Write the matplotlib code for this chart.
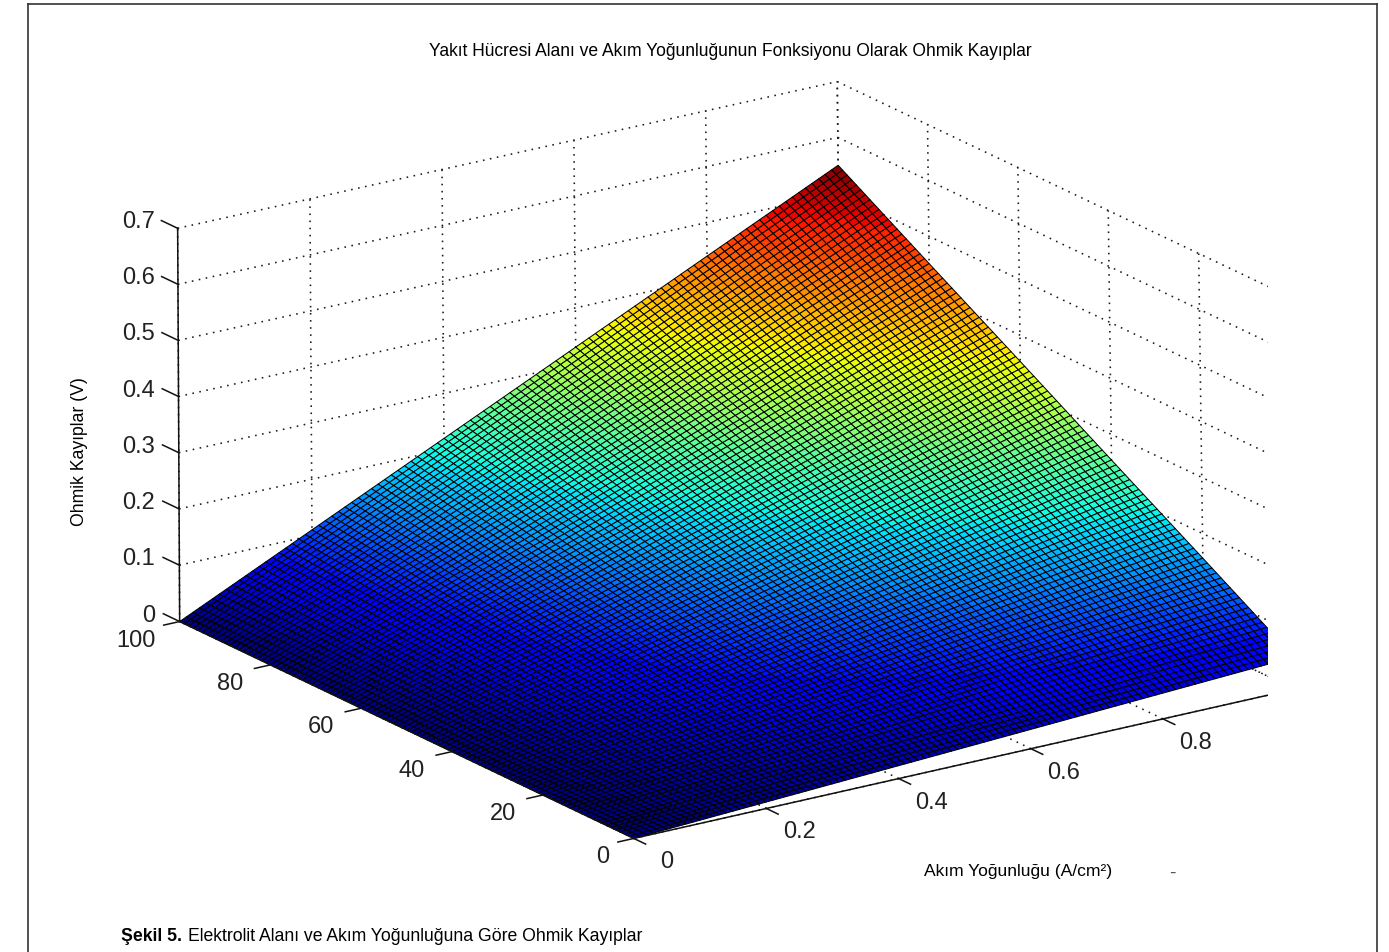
import numpy as np
import matplotlib
matplotlib.use("Agg")
import matplotlib.pyplot as plt
from matplotlib.lines import Line2D
from mpl_toolkits.mplot3d import Axes3D  # noqa: F401

plt.rcParams['font.family'] = ['Liberation Sans', 'DejaVu Sans']

W, H = 1389, 953

# ---- data -----------------------------------------------------------
title = "Yakıt Hücresi Alanı ve Akım Yoğunluğunun Fonksiyonu Olarak Ohmik Kayıplar"
zlabel = "Ohmik Kayıplar (V)"
xlabel = "Akım Yoğunluğu (A/cm²)"
caption_bold = "Şekil 5."
caption_rest = "Elektrolit Alanı ve Akım Yoğunluğuna Göre Ohmik Kayıplar"

J_ticks = [0, 0.2, 0.4, 0.6, 0.8, 1.0]
J_labels = ["0", "0.2", "0.4", "0.6", "0.8"]
A_ticks = [0, 20, 40, 60, 80, 100]
A_labels = ["0", "20", "40", "60", "80", "100"]
Z_ticks = [0, 0.1, 0.2, 0.3, 0.4, 0.5, 0.6, 0.7]
Z_labels = ["0", "0.1", "0.2", "0.3", "0.4", "0.5", "0.6", "0.7"]

# losses read along the far edge (J = 1) at the area ticks; the loss rises
# from 0 along every line of constant area as J grows
edge_area = [0, 20, 40, 60, 80, 100]
edge_loss = [0.057, 0.156, 0.254, 0.353, 0.451, 0.55]
mesh_cells = 100

# ---- camera: fitted to where axis ticks sit in the picture -----------
cal_3d = [(0, 100, 0), (0, 100, .7), (1, 100, .7), (1, 100, .6), (0, 0, 0),
          (.2, 0, 0), (.6, 0, 0), (.8, 0, 0), (1, 80, .7), (1, 40, .7), (1, 20, .7),
          (1, 40, .6), (1, 20, .6), (.2, 100, .7), (.2, 100, .6),
          (0, 80, 0), (0, 60, 0), (0, 40, 0), (0, 20, 0)]
cal_px = [(178.5, 622), (178.5, 230), (838, 85), (838, 138), (632, 839),
          (767, 810), (1031, 750), (1162, 721), (929, 126), (1108, 209), (1199, 255),
          (1108, 265), (1199, 311), (309, 200), (309, 256),
          (270, 665), (362, 708), (453, 753), (545, 797)]
rows = []
for (j, a, z), (u, v) in zip(cal_3d, cal_px):
    X = np.array([j, a / 100, z / .7, 1.0])
    u, v = u / 1000, v / 1000
    rows.append(np.r_[X, 0 * X, -u * X])
    rows.append(np.r_[0 * X, X, -v * X])
P = np.linalg.svd(np.array(rows))[2][-1].reshape(3, 4)
P = P / P[2, 3]
scale = np.diag([1, .01, 1 / .7, 1])
P = P @ scale
M = np.array([P[0] * 1000, P[1] * 1000, [1, .01, .1, 0], P[2]])


def project(j, a, z):
    p = M @ np.array([j, a, z, 1.0])
    return p[0] / p[3], p[1] / p[3]


# ---- figure ----------------------------------------------------------
fig = plt.figure(figsize=(W / 100, H / 100), dpi=100, facecolor='white')
CLIP_X = 1268
ax = fig.add_axes([0, 0, CLIP_X / W, 1], projection='3d')
ax.set_proj_type('ortho')
ax.apply_aspect = lambda position=None: None
ax.get_proj = lambda: M
ax._viewLim.set_points(np.array([[0.0, H], [float(CLIP_X), 0.0]]))
ax.set_axis_off()
ax.computed_zorder = False
ax.patch.set_visible(False)

ink = '#222222'
dot = dict(color='#1a1a1a', lw=1.15, ls=(0, (1, 3.45)), zorder=1)
solid = dict(color='#111111', lw=1.1, zorder=3)

for z in Z_ticks:
    ax.plot([0, 1], [100, 100], [z, z], **dot)
    ax.plot([1, 1], [100, 0], [z, z], **dot)
for j in J_ticks:
    ax.plot([j, j], [100, 100], [0, 0.7], **dot)
    ax.plot([j, j], [0, 100], [0, 0], **dot)
for a in A_ticks:
    ax.plot([1, 1], [a, a], [0, 0.7], **dot)
    ax.plot([0, 1], [a, a], [0, 0], **dot)

# axes lines and tick marks
ax.plot([0, 0], [100, 100], [0, 0.7], **solid)
ax.plot([0, 1], [0, 0], [0, 0], **solid)
ax.plot([0, 0], [0, 100], [0, 0], **solid)
for z in Z_ticks:
    ax.plot([0, 0], [100, 103.6], [z, z], **solid)
for j in J_ticks:
    ax.plot([j, j], [0, -2.6], [0, 0], **solid)
for a in A_ticks:
    ax.plot([0, -0.024], [a, a], [0, 0], **solid)

# surface
J_mesh, A_mesh = np.meshgrid(np.linspace(0, 1, mesh_cells + 1),
                             np.linspace(0, 100, mesh_cells + 1))
Z_mesh = J_mesh * np.interp(A_mesh, edge_area, edge_loss)
surf = ax.plot_surface(J_mesh, A_mesh, Z_mesh, rstride=1, cstride=1,
                       cmap=plt.get_cmap('jet', 64), vmin=0, vmax=max(edge_loss),
                       edgecolor='black', linewidth=0.72, antialiased=True,
                       zorder=2)


# ---- text (pixel placement) ------------------------------------------
def put(x, y, s, **kw):
    kw.setdefault('ha', 'center')
    kw.setdefault('va', 'center')
    kw.setdefault('color', ink)
    return fig.text(x / W, 1 - y / H, s, **kw)


tick_fs = 17
for z, s in zip(Z_ticks, Z_labels):
    x, y = project(0, 100, z)
    put(155, y - 7, s, ha='right', fontsize=tick_fs)
for j, s in zip(J_ticks, J_labels):
    x, y = project(j, 0, 0)
    put(x + 33, y + 23, s, fontsize=tick_fs)
for a, s in zip(A_ticks, A_labels):
    x, y = project(0, a, 0)
    dx = {0: -31, 100: -44}.get(a, -40)
    put(x + dx, y + 18, s, fontsize=tick_fs)

put(730, 52, title, fontsize=12.65, color='black')
put(79, 452, zlabel, rotation=90, fontsize=12.7, color='black')
put(1018, 872, xlabel, fontsize=12.6, color='black')
put(1172, 873, "-", fontsize=14, color='#555555')
put(121, 937, caption_bold, ha='left', fontsize=12.7, fontweight='bold', color='black')
put(188, 937, caption_rest, ha='left', fontsize=12.7, color='black')

# outer frame
for xs, ys in [((28, 28), (5, H)), ((28, 1377), (5, 5)), ((1377, 1377), (5, H))]:
    fig.add_artist(Line2D([x / W for x in xs], [1 - y / H for y in ys],
                          color='#333333', lw=1.2))

fig.savefig('out.png', dpi=100, facecolor='white')
